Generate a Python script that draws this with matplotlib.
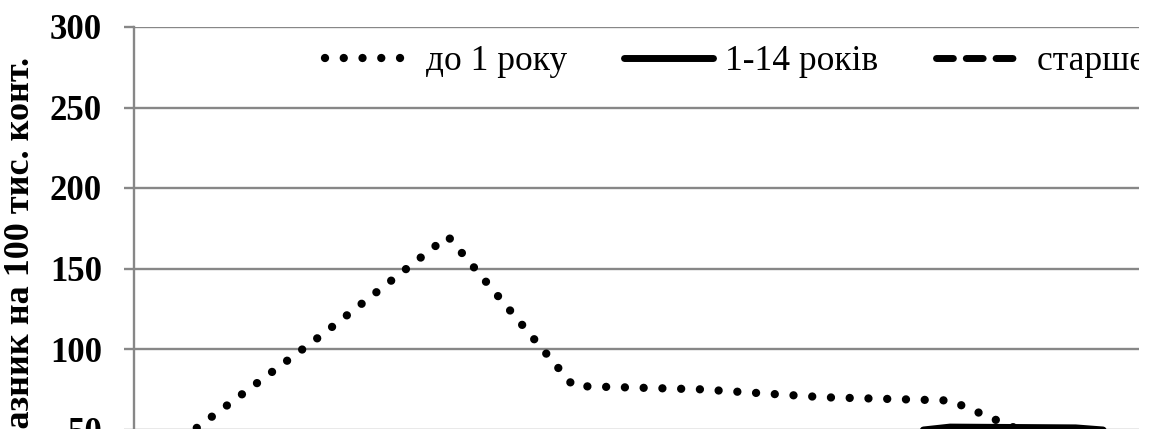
import numpy as np
import matplotlib
matplotlib.use("Agg")
import matplotlib.pyplot as plt
from matplotlib.patches import Rectangle

plt.rcParams['font.family'] = ['Liberation Serif', 'DejaVu Serif']

# дані (видима частина діаграми; нижче 50 значення оцінені приблизно)
categories = list(range(9))
do_1_roku = [51, 109, 170, 77, 75, 70, 68, 35, 25]
vid_1_14 = [22, 26, 31, 29, 30, 43, 51.5, 51, 45]
starshe = [12, 15, 20, 18, 17, 19, 24, 27, 25]
series_names = ['до 1 року', '1-14 років', 'старше 14 років']
yticks = [0, 50, 100, 150, 200, 250, 300]
ylabel = 'Показник на 100 тис. конт.'

W, H = 1152, 429
fig = plt.figure(figsize=(W / 100, H / 100), dpi=100)
# область графіка ширша і нижча за кадр (оригінал обрізаний)
ax = fig.add_axes([134 / W, (429 - 510) / H, 1130 / W, 483 / H])

grid_c = '#878787'
x = np.arange(len(categories))
ax.plot(x, do_1_roku, color='black', lw=6, linestyle=(0, (0.001, 2.25)),
        dash_capstyle='round', label=series_names[0], zorder=3)
ax.plot(x, vid_1_14, color='black', lw=5, solid_capstyle='round',
        solid_joinstyle='round', label=series_names[1], zorder=3)
ax.plot(x, starshe, color='black', lw=5, linestyle=(0, (2.43, 1.86)),
        dash_capstyle='round', label=series_names[2], zorder=3)

ax.set_xlim(-0.5, len(categories) - 0.5)
ax.set_ylim(0, 300)
ax.set_yticks(yticks)
ax.set_xticks([])
ax.yaxis.grid(True, color=grid_c, lw=1.7)
ax.set_axisbelow(True)
for s in ['top', 'right', 'bottom']:
    ax.spines[s].set_visible(False)
ax.spines['left'].set_color(grid_c)
ax.spines['left'].set_linewidth(1.7)
ax.tick_params(axis='y', length=7.2, width=1.7, color=grid_c, pad=15.8,
               labelsize=25)
for t in ax.get_yticklabels():
    t.set_fontweight('bold')

fig.text(21 / W, 1 - 57 / H, ylabel, rotation=90, ha='center', va='top',
         fontsize=26, fontweight='bold')

ax.legend(loc='center left', bbox_to_anchor=(325 / W, 1 - 62 / H),
          bbox_transform=fig.transFigure, ncol=3, frameon=False,
          borderpad=0, borderaxespad=0, handlelength=2.5,
          handletextpad=0.35, columnspacing=1.62, fontsize=25.5)

# обрізка справа, як у зразку
fig.add_artist(Rectangle((1139 / W, 0), 13 / W, 1, transform=fig.transFigure,
                         facecolor='white', edgecolor='none', zorder=10))

fig.savefig('out.png', dpi=100)
